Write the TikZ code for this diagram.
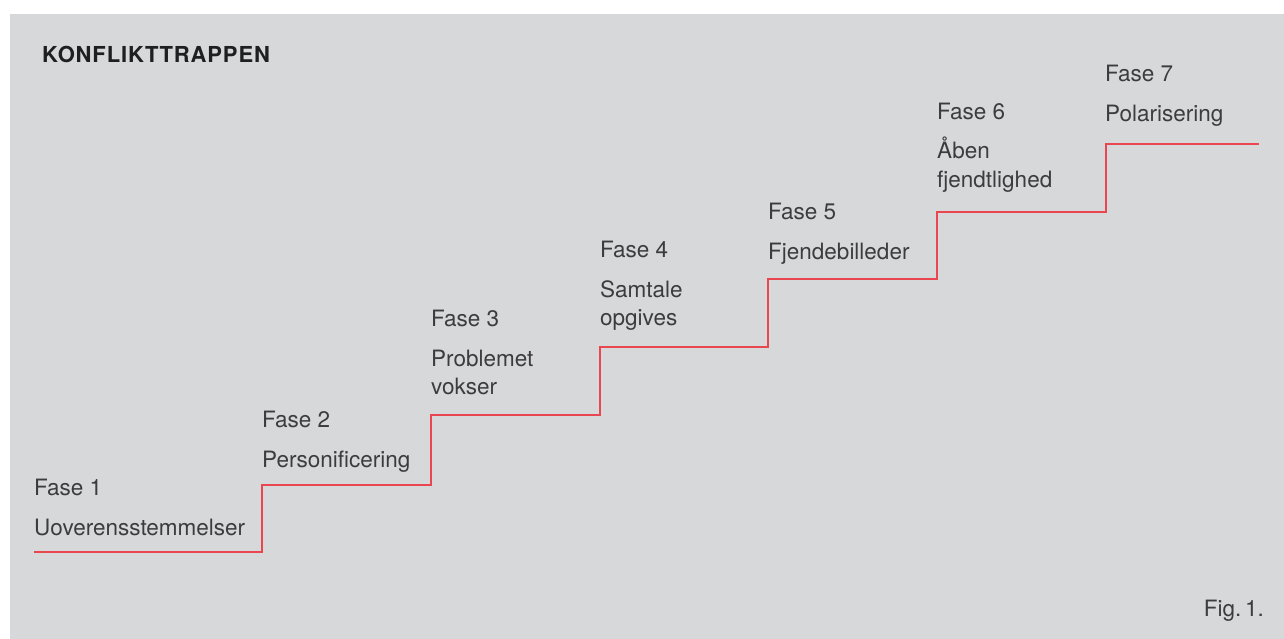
\documentclass[tikz,border=0pt]{standalone}
\usepackage{fontspec}
\setmainfont{TeX Gyre Heros}
\newfontfamily\titlefont[LetterSpace=4]{TeX Gyre Heros}
\definecolor{bggray}{HTML}{D7D8DA}
\definecolor{txtgray}{HTML}{3C3C3E}
\definecolor{stepred}{HTML}{E9464F}
\begin{document}
\begin{tikzpicture}[x=1pt,y=-1pt,
  lbl/.style={anchor=base west,inner sep=0pt,text=txtgray,font=\fontsize{22.5}{26}\selectfont},
  ttl/.style={anchor=base west,inner sep=0pt,text=black!88,font=\titlefont\bfseries\fontsize{22}{26}\selectfont},
  stairline/.style={draw=stepred,line width=2.6pt}]
\useasboundingbox (0,0) rectangle (1284,639);
\fill[bggray] (10,14) rectangle (1284,639);
\node[ttl] (title) at (42,63) {KONFLIKTTRAPPEN};
% staircase corners
\coordinate (s0) at (34,552);
\coordinate (c1) at (262,552);
\coordinate (s1) at (262,485);
\coordinate (c2) at (431,485);
\coordinate (s2) at (431,415);
\coordinate (c3) at (600,415);
\coordinate (s3) at (600,347);
\coordinate (c4) at (768,347);
\coordinate (s4) at (768,279);
\coordinate (c5) at (937,279);
\coordinate (s5) at (937,212);
\coordinate (c6) at (1106,212);
\coordinate (s6) at (1106,144);
\coordinate (e) at (1259,144);
\draw[stairline] (s0) -- (c1) -- (s1) -- (c2) -- (s2) -- (c3) -- (s3) -- (c4) -- (s4) -- (c5) -- (s5) -- (c6) -- (s6) -- (e);
% labels
\node[lbl] (f1) at (34,495) {Fase 1};
\node[lbl] (l1) at (34,535) {Uoverensstemmelser};
\node[lbl] (f2) at (262,427) {Fase 2};
\node[lbl] (l2) at (262,467) {Personificering};
\node[lbl] (f3) at (431,326) {Fase 3};
\node[lbl] (l3a) at (431,366) {Problemet};
\node[lbl] (l3b) at (431,394) {vokser};
\node[lbl] (f4) at (600,257) {Fase 4};
\node[lbl] (l4a) at (600,297) {Samtale};
\node[lbl] (l4b) at (600,325) {opgives};
\node[lbl] (f5) at (768,219) {Fase 5};
\node[lbl] (l5) at (768,259) {Fjendebilleder};
\node[lbl] (f6) at (937,120) {Fase 6};
\node[lbl] (l6a) at (937,159) {Åben};
\node[lbl] (l6b) at (937,188) {fjendtlighed};
\node[lbl] (f7) at (1105,82) {Fase 7};
\node[lbl] (l7) at (1105,122) {Polarisering};
\node[lbl,anchor=base east] (fig) at (1264,616) {Fig.\,1.};
\end{tikzpicture}
\end{document}
